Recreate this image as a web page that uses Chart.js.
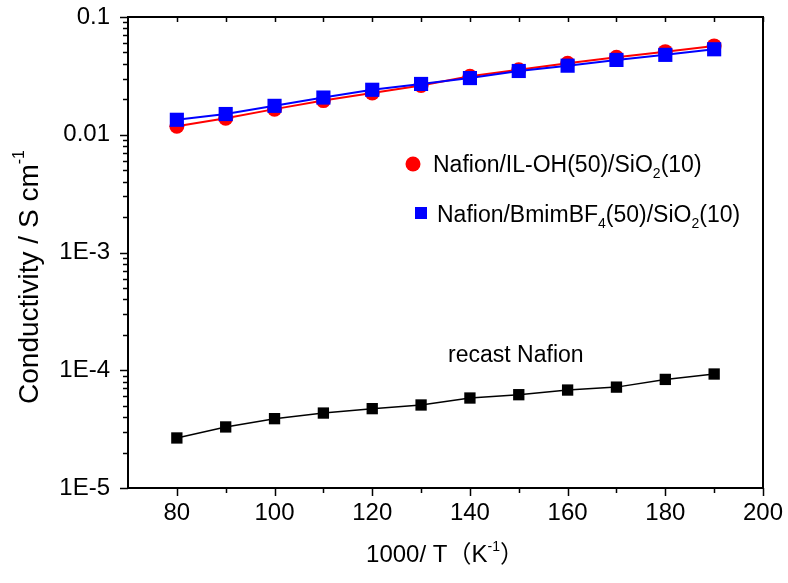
<!DOCTYPE html>
<html>
<head>
<meta charset="utf-8">
<script src="https://cdn.jsdelivr.net/npm/chart.js@4.4.0/dist/chart.umd.min.js"></script>
<style>
  html, body { margin: 0; padding: 0; background: #fff; }
  #chart { display: block; }
</style>
</head>
<body>
<canvas id="chart" width="788" height="583"></canvas>
<script>
/* globals Chart */

// 1000/T values
var xValues = [80, 90, 100, 110, 120, 130, 140, 150, 160, 170, 180, 190]

// conductivity, S/cm
var ilOH = [0.0118, 0.0138, 0.0165, 0.0195, 0.0226, 0.0262, 0.0314, 0.0356, 0.0405, 0.0455, 0.0508, 0.0568]
var bmimBF4 = [0.0134, 0.0150, 0.0176, 0.0207, 0.0241, 0.0270, 0.0303, 0.0348, 0.0386, 0.0432, 0.0477, 0.0532]
var recast = [0.0000266, 0.0000330, 0.0000388, 0.0000433, 0.0000472, 0.0000507, 0.0000581, 0.0000620, 0.0000679, 0.0000719, 0.0000836, 0.0000929]

var xTickValues = [80, 90, 100, 110, 120, 130, 140, 150, 160, 170, 180, 190, 200]
var yTickValues = [0.00001, 0.0001, 0.001, 0.01, 0.1]
var yTickLabels = ['1E-5', '1E-4', '1E-3', '0.01', '0.1']

function toPoints(values){
  return xValues.map(function(x, i){ return {x: x, y: values[i]} })
}

var SANS = '"Liberation Sans", Arial, sans-serif'

// draws text pieces with sub/superscripts, left aligned at x
function drawRich(ctx, parts, x, y, family){
  parts.forEach(function(p){
    ctx.font = p.size + 'px ' + family
    ctx.fillText(p.text, x, y + (p.dy || 0))
    x += ctx.measureText(p.text).width
  })
  return x
}

function richWidth(ctx, parts, family){
  var w = 0
  parts.forEach(function(p){
    ctx.font = p.size + 'px ' + family
    w += ctx.measureText(p.text).width
  })
  return w
}

// keep chart area fixed, no extra room for edge labels
function noEdgePadding(scale){
  scale.paddingTop = 0
  scale.paddingBottom = 0
  scale.paddingLeft = 0
  scale.paddingRight = 0
}

var framePlugin = {
  id: 'frame',
  afterDraw: function(chart){
    var ctx = chart.ctx
    var a = chart.chartArea
    var xs = chart.scales.x
    var ys = chart.scales.y
    ctx.save()
    ctx.strokeStyle = '#000'
    ctx.fillStyle = '#000'
    ctx.lineWidth = 2
    ctx.strokeRect(a.left, a.top, a.right - a.left, a.bottom - a.top)

    // x ticks, bottom outward and top inward
    ctx.lineWidth = 1.5
    xTickValues.forEach(function(v){
      var px = Math.round(xs.getPixelForValue(v)) + 0.5
      var len = v % 20 === 0 ? 8 : 5
      ctx.beginPath()
      ctx.moveTo(px, a.bottom)
      ctx.lineTo(px, a.bottom + len)
      ctx.moveTo(px, a.top)
      ctx.lineTo(px, a.top + 5)
      ctx.stroke()
    })

    // y ticks, decades + minors, outward
    for(var e = -5; e <= -1; e++){
      for(var m = 1; m <= 9; m++){
        var v = m * Math.pow(10, e)
        if(v > 0.1 + 1e-12) break
        var py = Math.round(ys.getPixelForValue(v)) + 0.5
        var len2 = m === 1 ? 8 : 5
        ctx.beginPath()
        ctx.moveTo(a.left, py)
        ctx.lineTo(a.left - len2, py)
        ctx.stroke()
      }
    }

    // y title
    ctx.save()
    ctx.translate(30, 277)
    ctx.rotate(-Math.PI / 2)
    ctx.textBaseline = 'alphabetic'
    var yTitle = [
      {text: 'Conductivity / S cm', size: 28},
      {text: '-1', size: 16, dy: -14}
    ]
    var w = richWidth(ctx, yTitle, SANS)
    drawRich(ctx, yTitle, -w / 2, 8, SANS)
    ctx.restore()

    // x title
    var xTitle = [
      {text: '1000/ T（K', size: 24},
      {text: '-1', size: 14, dy: -11},
      {text: '）', size: 24}
    ]
    var fam = '"Liberation Sans", "Noto Sans CJK SC", sans-serif'
    var w2 = richWidth(ctx, xTitle, fam)
    drawRich(ctx, xTitle, 445 - w2 / 2, 562, fam)

    // legend
    ctx.fillStyle = '#ff0000'
    ctx.beginPath()
    ctx.arc(413, 164, 7.5, 0, Math.PI * 2)
    ctx.fill()
    ctx.fillStyle = '#0000ff'
    ctx.fillRect(415, 207, 12, 12)
    ctx.fillStyle = '#000'
    drawRich(ctx, [
      {text: 'Nafion/IL-OH(50)/SiO', size: 23},
      {text: '2', size: 14, dy: 6},
      {text: '(10)', size: 23}
    ], 433, 172, SANS)
    drawRich(ctx, [
      {text: 'Nafion/BmimBF', size: 23},
      {text: '4', size: 14, dy: 6},
      {text: '(50)/SiO', size: 23},
      {text: '2', size: 14, dy: 6},
      {text: '(10)', size: 23}
    ], 437, 222, SANS)

    // series label
    ctx.font = '23px ' + SANS
    ctx.textAlign = 'center'
    ctx.fillText('recast Nafion', xs.getPixelForValue(149.4), ys.getPixelForValue(0.000118))
    ctx.restore()
  }
}

var config = {
  type: 'line',
  data: {
    datasets: [
      {
        label: 'Nafion/BmimBF4(50)/SiO2(10)',
        data: toPoints(bmimBF4),
        borderColor: '#0000ff',
        backgroundColor: '#0000ff',
        borderWidth: 2,
        pointStyle: 'rect',
        pointRadius: 10,
        pointBorderWidth: 0
      },
      {
        label: 'Nafion/IL-OH(50)/SiO2(10)',
        data: toPoints(ilOH),
        borderColor: '#ff0000',
        backgroundColor: '#ff0000',
        borderWidth: 2,
        pointStyle: 'circle',
        pointRadius: 7.5,
        pointBorderWidth: 0
      },
      {
        label: 'recast Nafion',
        data: toPoints(recast),
        borderColor: '#000',
        backgroundColor: '#000',
        borderWidth: 1.5,
        pointStyle: 'rect',
        pointRadius: 8,
        pointBorderWidth: 0
      }
    ]
  },
  options: {
    responsive: false,
    animation: false,
    events: [],
    layout: { padding: { top: 17, right: 25, left: 0, bottom: 0 } },
    plugins: {
      legend: { display: false },
      tooltip: { enabled: false }
    },
    scales: {
      x: {
        type: 'linear',
        min: 70,
        max: 200,
        grid: { display: false, drawTicks: false },
        border: { display: false },
        afterBuildTicks: function(scale){
          scale.ticks = xTickValues.map(function(v){ return {value: v} })
        },
        afterFit: function(scale){
          scale.height = 95
          noEdgePadding(scale)
        },
        ticks: {
          autoSkip: false,
          maxRotation: 0,
          padding: 11,
          color: '#000',
          font: { family: SANS, size: 24 },
          callback: function(v){ return v % 20 === 0 ? String(v) : '' }
        }
      },
      y: {
        type: 'logarithmic',
        min: 0.00001,
        max: 0.1,
        grid: { display: false, drawTicks: false },
        border: { display: false },
        afterBuildTicks: function(scale){
          scale.ticks = yTickValues.map(function(v){ return {value: v} })
        },
        afterFit: function(scale){
          scale.width = 128
          noEdgePadding(scale)
        },
        ticks: {
          autoSkip: false,
          padding: 18,
          color: '#000',
          font: { family: SANS, size: 24 },
          callback: function(v){
            var i = yTickValues.findIndex(function(t){ return Math.abs(t - v) / t < 1e-6 })
            return i >= 0 ? yTickLabels[i] : ''
          }
        }
      }
    }
  },
  plugins: [framePlugin]
}

var chart = new Chart(document.getElementById('chart'), config)
</script>
</body>
</html>
